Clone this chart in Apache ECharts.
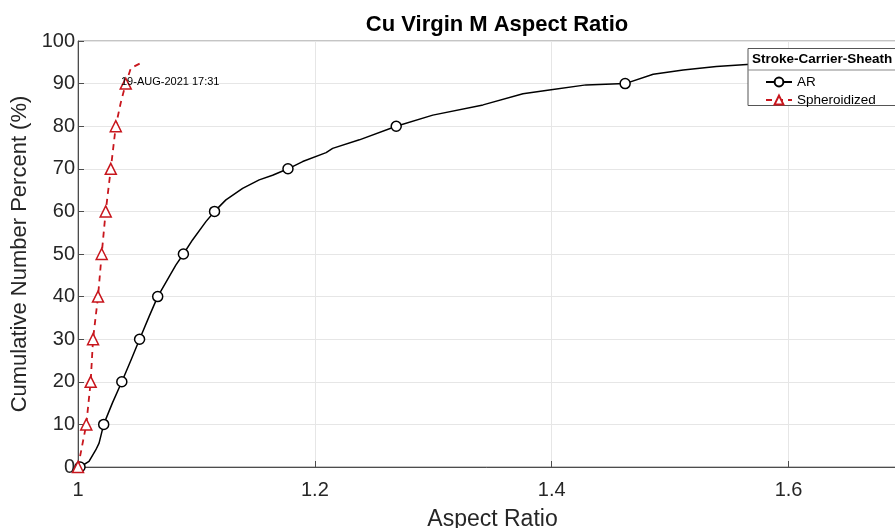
<!DOCTYPE html>
<html><head><meta charset="utf-8">
<script src="https://cdn.jsdelivr.net/npm/echarts@6/dist/echarts.min.js"></script>
<style>html,body{margin:0;padding:0;background:#fff}#c{width:895px;height:528px}</style>
</head><body><div id="c"></div>
<script>
const titleText = 'Cu Virgin M Aspect Ratio';
const xName = 'Aspect Ratio';
const yName = 'Cumulative Number Percent (%)';
const legendTitle = 'Stroke-Carrier-Sheath';
const stampText = '19-AUG-2021 17:31';
const seriesNames = ['AR', 'Spheroidized'];
const markerLevels = [0, 10, 20, 30, 40, 50, 60, 70, 80, 90];

const arX = [1.0017, 1.0093, 1.015, 1.0178, 1.0217, 1.029, 1.037, 1.0446, 1.052, 1.060, 1.0673, 1.077, 1.0826, 1.089, 1.0967, 1.108, 1.1153, 1.1249, 1.139, 1.153, 1.1643, 1.1773, 1.1897, 1.2095, 1.215, 1.2376, 1.2687, 1.2996, 1.342, 1.3757, 1.398, 1.429, 1.462, 1.4857, 1.511, 1.539, 1.5647, 1.62, 1.68, 1.75];
const arY = [0, 1.3, 4, 5.6, 10, 15, 20, 25, 30, 35.3, 40, 44.7, 47.4, 50, 53.3, 57.6, 60, 62.7, 65.4, 67.4, 68.5, 70, 71.7, 73.8, 74.8, 76.8, 80, 82.6, 85, 87.6, 88.5, 89.7, 90, 92.2, 93.2, 94, 94.5, 95.2, 95.7, 96.2];

const spX = [1.0, 1.007, 1.0107, 1.0127, 1.0169, 1.020, 1.0234, 1.0277, 1.0319, 1.036, 1.0403, 1.0446, 1.0555];
const spY = [0, 10, 20, 30, 40, 50, 60, 70, 80, 85.4, 90, 93.6, 95.2];

const xTicks = {min: 1, max: 1.7, interval: 0.2};
const yTicks = {min: 0, max: 100, interval: 10};

const FONT = '"Liberation Sans", Arial, sans-serif';
const RED = '#c8161d';

function build(xs, ys) {
  return xs.map((x, i) => markerLevels.includes(ys[i])
    ? {value: [x, ys[i]]}
    : {value: [x, ys[i]], symbol: 'none'});
}

const chart = echarts.init(document.getElementById('c'));
chart.setOption({
  animation: false,
  backgroundColor: '#fff',
  title: {
    text: titleText, left: 492, top: 9, textAlign: 'center',
    textStyle: {fontFamily: FONT, fontSize: 22, fontWeight: 'bold', color: '#000'}
  },
  grid: {left: 78, right: -12, top: 41, bottom: 61, show: true, borderColor: '#8a8a8a', borderWidth: 1,
         containLabel: false, outerBoundsMode: 'none'},
  xAxis: {
    type: 'value', min: xTicks.min, max: xTicks.max, interval: xTicks.interval,
    name: xName, nameLocation: 'middle', nameGap: 41,
    nameTextStyle: {fontFamily: FONT, fontSize: 23, color: '#262626'},
    axisLine: {show: true, lineStyle: {color: '#4d4d4d', width: 1}},
    axisTick: {show: true, inside: true, length: 6, lineStyle: {color: '#4d4d4d'}},
    axisLabel: {fontFamily: FONT, fontSize: 20, color: '#262626', margin: 13, showMaxLabel: false},
    splitLine: {show: true, lineStyle: {color: '#e6e6e6', width: 1}}
  },
  yAxis: {
    type: 'value', min: yTicks.min, max: yTicks.max, interval: yTicks.interval,
    name: yName, nameLocation: 'middle', nameGap: 41,
    nameTextStyle: {fontFamily: FONT, fontSize: 22, color: '#262626'},
    axisLine: {show: true, lineStyle: {color: '#4d4d4d', width: 1}},
    axisTick: {show: true, inside: true, length: 6, lineStyle: {color: '#4d4d4d'}},
    axisLabel: {fontFamily: FONT, fontSize: 20, color: '#262626', margin: 3},
    splitLine: {show: true, lineStyle: {color: '#e6e6e6', width: 1}}
  },
  legend: {
    data: seriesNames, orient: 'vertical', left: 760, top: 70, itemWidth: 26, itemHeight: 11, itemGap: 4,
    textStyle: {fontFamily: FONT, fontSize: 13.5, color: '#000'}, z: 10
  },
  graphic: [
    {type: 'rect', z: 8, shape: {x: 748, y: 48.5, width: 170, height: 57}, style: {fill: '#fff', stroke: '#555', lineWidth: 1}},
    {type: 'line', z: 9, shape: {x1: 748, y1: 70, x2: 918, y2: 70}, style: {stroke: '#888', lineWidth: 1}},
    {type: 'text', z: 9, x: 752, y: 59, style: {text: legendTitle, font: 'bold 13.5px ' + FONT, fill: '#000', textVerticalAlign: 'middle'}},
    {type: 'text', z: 9, x: 121, y: 82, style: {text: stampText, font: '11px ' + FONT, fill: '#000', textVerticalAlign: 'middle'}}
  ],
  series: [
    {
      name: seriesNames[0], type: 'line', data: build(arX, arY),
      symbol: 'circle', symbolSize: 10, showAllSymbol: true,
      lineStyle: {color: '#000', width: 1.5},
      itemStyle: {color: '#fff', borderColor: '#000', borderWidth: 1.5},
      z: 3
    },
    {
      name: seriesNames[1], type: 'line', data: build(spX, spY),
      symbol: 'triangle', symbolSize: 11, showAllSymbol: true,
      lineStyle: {color: RED, width: 1.8, type: [6, 5]},
      itemStyle: {color: '#fff', borderColor: RED, borderWidth: 1.5},
      z: 4
    }
  ]
});
</script></body></html>
